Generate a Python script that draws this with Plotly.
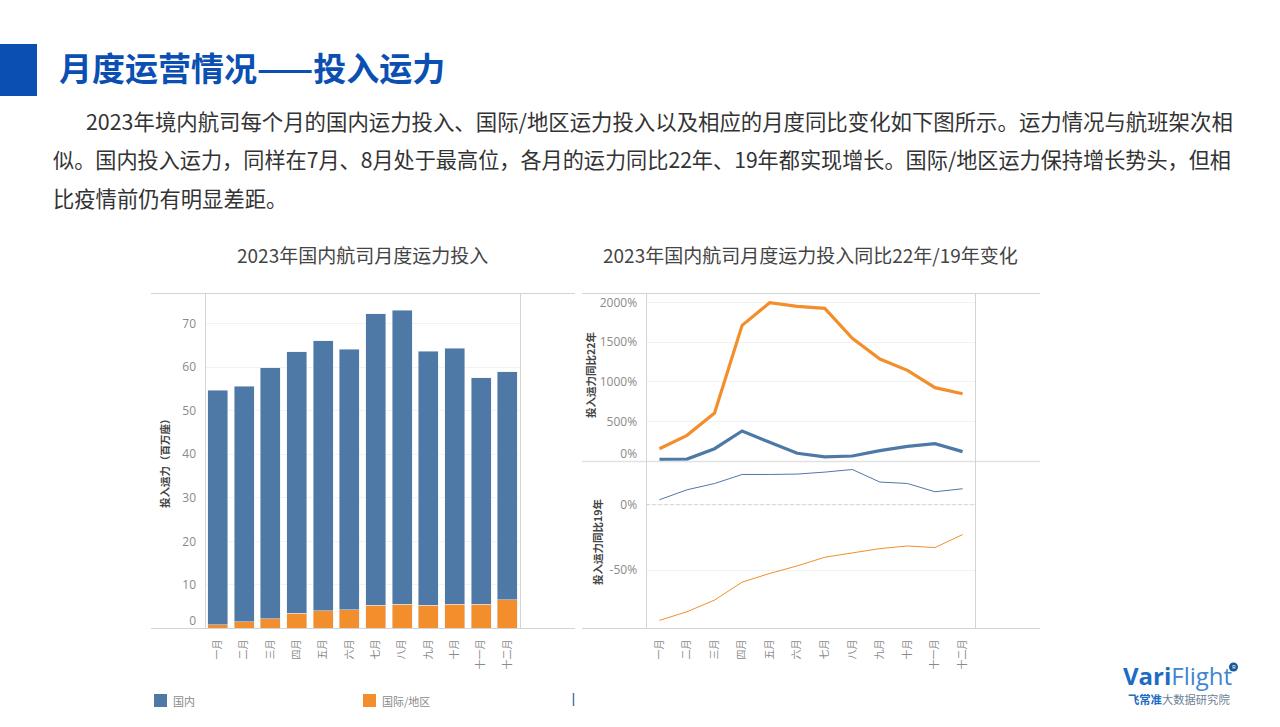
import plotly.graph_objects as go

W, H = 1280, 727
BLUE = "#4e79a7"
ORANGE = "#f28e2b"
CJK = "Noto Sans CJK SC"

months = ["一月", "二月", "三月", "四月", "五月", "六月", "七月", "八月", "九月", "十月", "十一月", "十二月"]
totals = [54.7, 55.6, 59.9, 63.5, 66.0, 64.1, 72.2, 73.1, 63.7, 64.3, 57.6, 58.9]
intl = [0.9, 1.6, 2.2, 3.45, 4.05, 4.3, 5.3, 5.6, 5.3, 5.6, 5.6, 6.6]
domestic = [round(t - i, 2) for t, i in zip(totals, intl)]
dom_vs22 = [27, 31, 161, 383, 241, 103, 57, 69, 136, 190, 224, 124]
intl_vs22 = [161, 329, 609, 1711, 1995, 1949, 1924, 1547, 1288, 1145, 928, 852]
dom_vs19 = [3.8, 11.4, 16.2, 23.1, 23.1, 23.4, 24.9, 26.9, 17.3, 16.2, 9.9, 12.2]
intl_vs19 = [-88.3, -81.7, -72.8, -59.1, -52.5, -46.7, -40.1, -37.0, -33.5, -31.5, -32.7, -22.8]

para = [
    "2023年境内航司每个月的国内运力投入、国际/地区运力投入以及相应的月度同比变化如下图所示。运力情况与航班架次相",
    "似。国内投入运力，同样在7月、8月处于最高位，各月的运力同比22年、19年都实现增长。国际/地区运力保持增长势头，但相",
    "比疫情前仍有明显差距。",
]


def px(x):
    return x / W


def py(y):
    return 1 - y / H


fig = go.Figure()
fig.add_bar(x=months, y=intl, name="国际/地区", marker_color=ORANGE, xaxis="x", yaxis="y", width=0.76)
fig.add_bar(x=months, y=domestic, name="国内", marker_color=BLUE, xaxis="x", yaxis="y", width=0.76)
fig.add_scatter(x=months, y=dom_vs22, mode="lines", line=dict(color=BLUE, width=3.2), xaxis="x2", yaxis="y2", name="国内")
fig.add_scatter(x=months, y=intl_vs22, mode="lines", line=dict(color=ORANGE, width=3.2), xaxis="x2", yaxis="y2", name="国际/地区")
fig.add_scatter(x=months, y=dom_vs19, mode="lines", line=dict(color=BLUE, width=1), xaxis="x3", yaxis="y3", name="国内")
fig.add_scatter(x=months, y=intl_vs19, mode="lines", line=dict(color=ORANGE, width=1), xaxis="x3", yaxis="y3", name="国际/地区")

tick_font = dict(family="Open Sans", size=12, color="#8a8a8a")
xtick_font = dict(family=CJK, size=10, color="#8a8a8a")
x_common = dict(type="category", categoryorder="array", categoryarray=months, showgrid=False, zeroline=False,
                showline=False, tickangle=-90, tickfont=xtick_font, ticks="outside", ticklen=6, tickcolor="rgba(0,0,0,0)",
                automargin=False)
y_common = dict(showline=False, zeroline=False, showgrid=True, gridcolor="#f2f2f2", gridwidth=1,
                tickfont=tick_font, ticks="outside", ticklen=6, tickcolor="rgba(0,0,0,0)", automargin=False)

shapes = []


def line(x0, y0, x1, y1, color="#d4d4d4", width=1):
    shapes.append(dict(type="line", xref="paper", yref="paper", x0=px(x0), y0=py(y0), x1=px(x1), y1=py(y1),
                       line=dict(color=color, width=width)))


def rect(x0, y0, x1, y1, color):
    shapes.append(dict(type="rect", xref="paper", yref="paper", x0=px(x0), y0=py(y0), x1=px(x1), y1=py(y1),
                       fillcolor=color, line=dict(width=0)))


rect(0, 44, 37, 96, "#0b4fb3")
line(151, 293.5, 575, 293.5)
line(151, 628.5, 575, 628.5)
line(205.5, 293.5, 205.5, 628.5)
line(520.5, 293.5, 520.5, 628.5)
line(582, 293.5, 1040, 293.5)
line(582, 461.5, 1040, 461.5, "#e2e2e2", 1.5)
line(582, 628.5, 1040, 628.5)
line(646.5, 293.5, 646.5, 628.5)
line(975.5, 293.5, 975.5, 628.5)
rect(154, 694, 167, 707, BLUE)
rect(363, 694, 376, 707, ORANGE)
line(573.5, 693, 573.5, 706, BLUE, 1.5)
shapes.append(dict(type="line", xref="x3 domain", yref="y3", x0=0, x1=1, y0=0, y1=0,
                   line=dict(color="#cfcfcf", width=1, dash="dot")))
shapes.append(dict(type="circle", xref="paper", yref="paper", x0=px(1229), x1=px(1238), y0=py(671.5), y1=py(662.5),
                   fillcolor="#155a9c", line=dict(width=0)))

annotations = []


def text(t, x, y, size, color="#333333", anchor="left", family=CJK, angle=0):
    annotations.append(dict(text=t, xref="paper", yref="paper", x=px(x), y=py(y), xanchor=anchor, yanchor="middle",
                            showarrow=False, textangle=angle, font=dict(family=family, size=size, color=color)))


text("<b>月度运营情况——投入运力</b>", 57, 67, 33, "#0b4fb3")
text(para[0], 84, 120, 21.4)
text(para[1], 51, 158, 21.15)
text(para[2], 51, 197, 21.3)
text("2023年国内航司月度运力投入", 362.5, 255, 19, "#444444", "center")
text("2023年国内航司月度运力投入同比22年/19年变化", 810.5, 255, 19, "#444444", "center")
text("<b>投入运力（百万座）</b>", 165, 461, 10.5, "#444444", "center", angle=-90)
text("<b>投入运力同比22年</b>", 590, 375, 10.5, "#444444", "center", angle=-90)
text("<b>投入运力同比19年</b>", 597, 542, 10.5, "#444444", "center", angle=-90)
text("国内", 171, 700.5, 11, "#8a8a8a")
text("国际/地区", 380, 700.5, 11, "#8a8a8a")
text("<b>Vari</b><span style='color:#3f86d0'>Flight</span>", 1121, 675, 24, "#1c6cc4", family="Open Sans")
text("<b>飞常准</b><span style='color:#6c7f96'>大数据研究院</span>", 1126, 699, 11.3, "#1c6cc4")
text("R", 1233.5, 667, 6, "#ffffff", "center", family="Open Sans")

fig.update_layout(
    width=W, height=H, autosize=False, margin=dict(l=0, r=0, t=0, b=0, autoexpand=False), paper_bgcolor="white", plot_bgcolor="white",
    barmode="stack", bargap=0.24, showlegend=False, shapes=shapes, annotations=annotations,
    xaxis=dict(x_common, domain=[px(205.5), px(520.5)], range=[-0.467, 11.5], anchor="y"),
    yaxis=dict(y_common, domain=[py(628.5), py(293.5)], range=[0, 76.9], anchor="x", tickmode="array",
               tickvals=[0, 10, 20, 30, 40, 50, 60, 70],
               ticktext=["0<br>&nbsp;", "10", "20", "30", "40", "50", "60", "70"]),
    xaxis2=dict(x_common, domain=[px(646.5), px(975.5)], range=[-0.47, 11.47], anchor="y2", showticklabels=False, ticks=""),
    yaxis2=dict(y_common, domain=[py(461.5), py(293.5)], range=[0, 2111], anchor="x2", tickmode="array",
                tickvals=[0, 500, 1000, 1500, 2000],
                ticktext=["0%<br>&nbsp;", "500%", "1000%", "1500%", "2000%"]),
    xaxis3=dict(x_common, domain=[px(646.5), px(975.5)], range=[-0.47, 11.47], anchor="y3"),
    yaxis3=dict(y_common, domain=[py(628.5), py(461.5)], range=[-94.5, 33], anchor="x3", tickmode="array",
                tickvals=[-50, 0], ticktext=["-50%", "0%"]),
)

fig.write_html("out.html", config=dict(displayModeBar=False, responsive=False),
               default_width="1280px", default_height="727px",
               post_script="document.body.style.margin='0';document.documentElement.style.overflow='hidden';")
